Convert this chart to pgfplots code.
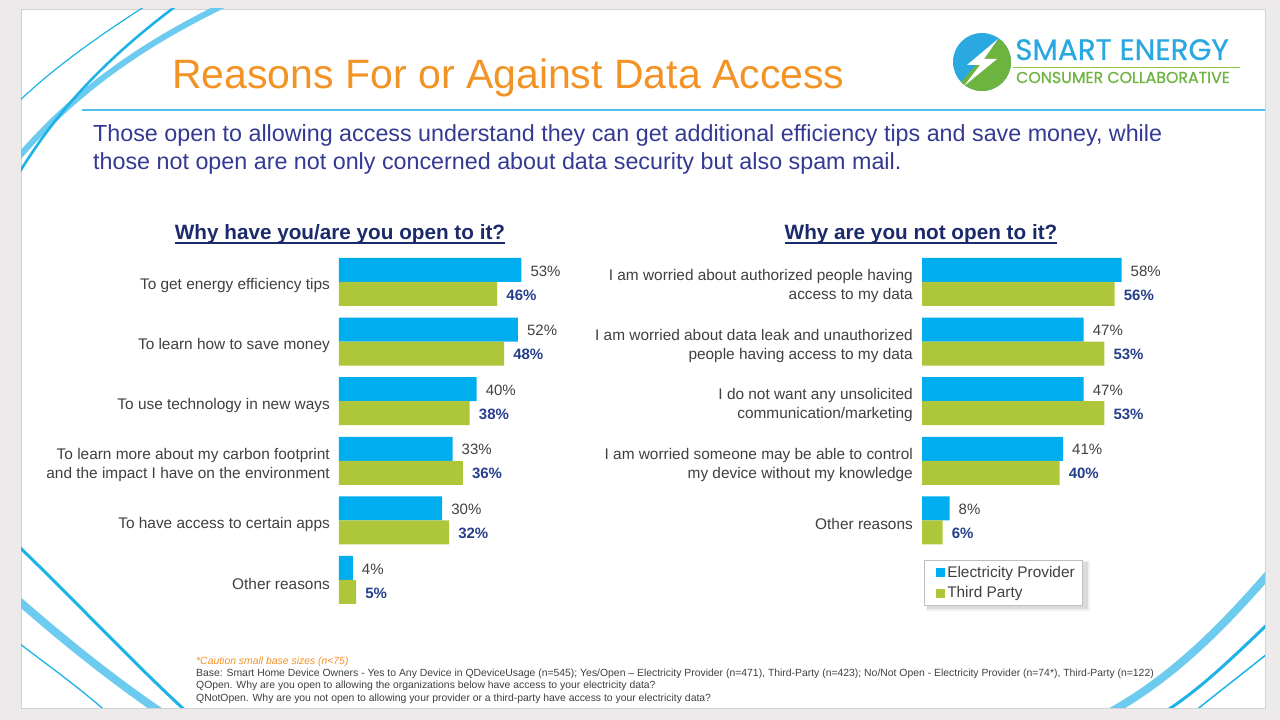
\documentclass[border=0pt]{standalone}
\usepackage{fontspec}
\setmainfont{Liberation Sans}
\newfontfamily\logofont{Poppins}[FakeBold=0.6]
\usepackage{pgfplots}
\pgfplotsset{compat=1.18}

\definecolor{barblue}{HTML}{00ADEF}
\definecolor{bargreen}{HTML}{AEC73A}
\definecolor{titleorange}{HTML}{F39325}
\definecolor{subnavy}{HTML}{343A92}
\definecolor{headnavy}{HTML}{1B2A6B}
\definecolor{labgray}{HTML}{404040}
\definecolor{valnavy}{HTML}{263E8C}
\definecolor{swoosh}{HTML}{1DB3E6}
\definecolor{swooshlight}{HTML}{6CCBEF}
\definecolor{outerbg}{HTML}{ECEAEB}
\definecolor{logoblue}{HTML}{2AA8E0}
\definecolor{logogreen}{HTML}{6DB33F}
\definecolor{rulegreen}{HTML}{8CC63F}

\newcommand{\fs}[2]{\fontsize{#1}{#2}\selectfont}

\pgfplotsset{
  reasons/.style={
    xbar, scale only axis,
    width=206.4pt, height=357.6pt,
    xmin=0, xmax=60, ymin=-0.5, ymax=5.5,
    axis line style={draw=none},
    xtick=\empty, major tick length=0pt,
    bar width=24pt, clip=false,
    /pgf/number format/assume math mode=true,
    yticklabel style={font=\fs{15.4}{19}, text=labgray, align=right,
      inner sep=0pt, xshift=-9pt, yshift=-4pt},
    nodes near coords={\pgfmathprintnumber{\pgfplotspointmeta}\%},
  },
  provider/.style={draw=none, fill=barblue, bar shift=12pt,
    every node near coord/.append style={font=\fs{15}{18}, text=labgray,
      inner sep=0pt, xshift=9pt, yshift=-1pt}},
  thirdparty/.style={draw=none, fill=bargreen, bar shift=-12pt,
    every node near coord/.append style={font=\bfseries\fs{15}{18}, text=valnavy,
      inner sep=0pt, xshift=9pt, yshift=-1pt}},
}

\begin{document}
\begin{tikzpicture}[x=1pt, y=1pt]
\path[use as bounding box] (0,0) rectangle (1280,720);

\begin{scope}[shift={(0,720)}, yscale=-1]
  % page and slide
  \fill[outerbg] (0,0) rectangle (1280,720);
  \fill[white] (21,9) rectangle (1265,708);
  \draw[gray!35, line width=0.8pt] (21,9) rectangle (1265,708);
  \begin{scope}
    \clip (21,9) rectangle (1265,708);
    % top-left swooshes
    \draw[swoosh, line width=1.2pt] (150,3) .. controls (100,35) and (50,70) .. (12,108);
    \draw[swooshlight, line width=6pt] (228,3) .. controls (140,45) and (70,95) .. (12,165);
    \draw[swoosh, line width=2.6pt] (180,3) .. controls (110,55) and (55,110) .. (12,185);
    % bottom-left swooshes
    \draw[swoosh, line width=3pt] (12,540) .. controls (70,595) and (130,660) .. (190,715);
    \draw[swooshlight, line width=8pt] (12,595) .. controls (60,637) and (110,678) .. (165,715);
    \draw[swoosh, line width=1.3pt] (12,638) .. controls (45,663) and (80,688) .. (110,715);
    % bottom-right swooshes
    \draw[swooshlight, line width=8pt] (1272,570) .. controls (1220,630) and (1170,680) .. (1105,715);
    \draw[swoosh, line width=3pt] (1272,620) .. controls (1232,658) and (1200,690) .. (1160,715);
    \draw[swoosh, line width=1.5pt] (1272,650) .. controls (1242,674) and (1215,695) .. (1190,715);
  \end{scope}

  % title and rule
  \node[anchor=base west, inner sep=0pt, text=titleorange, font=\fs{41}{48}] at (172,89)
    {Reasons For or Against Data Access};
  \draw[swoosh!80, line width=2pt] (82,110) -- (1265,110);

  % logo
  \fill[logoblue] (982,62) circle (29);
  \begin{scope}
    \clip (982,62) circle (29);
    \fill[logogreen] (945,100) -- (1002,36) -- (1030,36) -- (1030,110) -- cycle;
  \end{scope}
  \fill[white] (998,39) -- (967,65) -- (980,65) -- (964,86) -- (997,59) -- (984,59) -- cycle;
  \node[anchor=base west, inner sep=0pt, text=logoblue, font=\logofont\fs{29.5}{34}] at (1015,60)
    {SMART ENERGY};
  \draw[rulegreen, line width=1.3pt] (1013,67.5) -- (1240,67.5);
  \node[anchor=base west, inner sep=0pt, text=logogreen, font=\logofont\fs{15.8}{19}] at (1016,83)
    {CONSUMER COLLABORATIVE};

  % subtitle
  \node[anchor=base west, inner sep=0pt, text=subnavy, font=\fs{23.3}{28}] at (93,141.5)
    {Those open to allowing access understand they can get additional efficiency tips and save money, while};
  \node[anchor=base west, inner sep=0pt, text=subnavy, font=\fs{23.3}{28}] at (93,169.5)
    {those not open are not only concerned about data security but also spam mail.};

  % panel headings
  \node[inner sep=0pt, anchor=base, text=headnavy, font=\bfseries\fs{20.7}{24}] (h1) at (340,239.5)
    {Why have you/are you open to it?};
  \draw[headnavy, line width=1.4pt] ([yshift=3.5pt]h1.base west) -- ([yshift=3.5pt]h1.base east);
  \node[inner sep=0pt, anchor=base, text=headnavy, font=\bfseries\fs{20.7}{24}] (h2) at (921,239.5)
    {Why are you not open to it?};
  \draw[headnavy, line width=1.4pt] ([yshift=3.5pt]h2.base west) -- ([yshift=3.5pt]h2.base east);

  % legend shadow (the legend box itself comes from the right axis)
  \fill[gray!12] (925.5,561.5) rectangle (1089.5,611);
  \fill[gray!28] (926.5,562.5) rectangle (1087.5,609.5);

  % footnotes
  \node[anchor=base west, inner sep=0pt, text=titleorange, font=\itshape\fs{10.4}{12}] at (196,665)
    {*Caution small base sizes (n<75)};
  \node[anchor=base west, inner sep=0pt, text=labgray, font=\fs{10.4}{12}] at (196,677)
    {Base: Smart Home Device Owners - Yes to Any Device in QDeviceUsage (n=545); Yes/Open -- Electricity Provider (n=471), Third-Party (n=423); No/Not Open - Electricity Provider (n=74*), Third-Party (n=122)};
  \node[anchor=base west, inner sep=0pt, text=labgray, font=\fs{10.4}{12}] at (196,689)
    {QOpen. Why are you open to allowing the organizations below have access to your electricity data?};
  \node[anchor=base west, inner sep=0pt, text=labgray, font=\fs{10.4}{12}] at (196,701.5)
    {QNotOpen. Why are you not open to allowing your provider or a third-party have access to your electricity data?};
\end{scope}

% left panel
\begin{axis}[reasons,
  at={(339pt,467.8pt)}, anchor=north west,
  ytick={0,...,5},
  yticklabels={Other reasons, To have access to certain apps,
    {To learn more about my carbon footprint\\and the impact I have on the environment},
    To use technology in new ways, To learn how to save money,
    To get energy efficiency tips},
]
\addplot[provider] coordinates {(4,0) (30,1) (33,2) (40,3) (52,4) (53,5)};
\addplot[thirdparty] coordinates {(5,0) (32,1) (36,2) (38,3) (48,4) (46,5)};
\end{axis}

% right panel
\begin{axis}[reasons,
  at={(922pt,467.8pt)}, anchor=north west,
  ytick={1,...,5},
  yticklabels={Other reasons,
    {I am worried someone may be able to control\\my device without my knowledge},
    {I do not want any unsolicited\\communication/marketing},
    {I am worried about data leak and unauthorized\\people having access to my data},
    {I am worried about authorized people having\\access to my data}},
  legend style={at={(axis cs:0.6,0.336)}, anchor=north west,
    draw=gray!50, fill=white,
    font=\fs{15.4}{18}, text=labgray, inner xsep=5pt, inner ysep=4pt,
    row sep=4pt},
  legend cell align=left,
  legend image code/.code={\path (0pt,0pt); \fill[#1] (7pt,-4.5pt) rectangle (16pt,4.5pt);},
]
\addplot[provider] coordinates {(8,1) (41,2) (47,3) (47,4) (58,5)};
\addplot[thirdparty] coordinates {(6,1) (40,2) (53,3) (53,4) (56,5)};
\legend{Electricity Provider, Third Party}
\end{axis}
\end{tikzpicture}
\end{document}
